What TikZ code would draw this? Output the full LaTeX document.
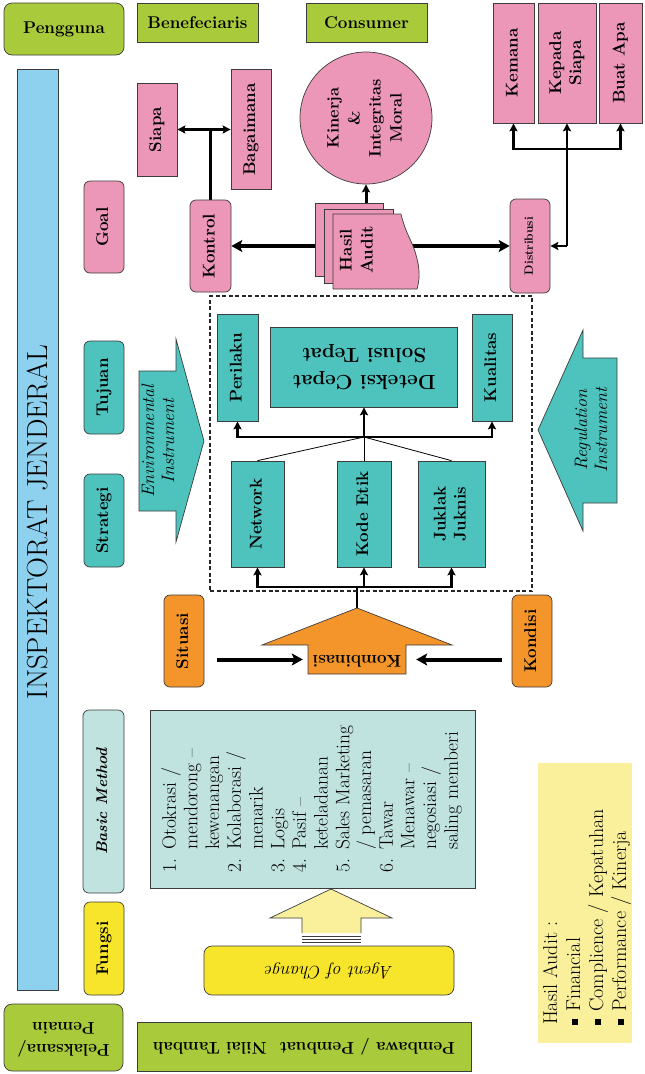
\documentclass[tikz,border=0pt]{standalone}
\usepackage{graphicx}
\usepackage{amssymb}
\usetikzlibrary{arrows.meta,backgrounds}
\definecolor{hijau}{HTML}{A9CB3B}
\definecolor{merahmuda}{HTML}{EC97B7}
\definecolor{tosca}{HTML}{4EC3BE}
\definecolor{jingga}{HTML}{F3952B}
\definecolor{biru}{HTML}{8DD1EE}
\definecolor{hijaumuda}{HTML}{C1E3E0}
\definecolor{kuning}{HTML}{F7E52B}
\definecolor{kuningmuda}{HTML}{FAF09C}
\definecolor{garis}{HTML}{3C3C3C}
\newcommand{\tegak}[1]{\rotatebox{90}{\begin{tabular}{@{}c@{}}#1\end{tabular}}}
\newcommand{\balik}[1]{\rotatebox{180}{\begin{tabular}{@{}c@{}}#1\end{tabular}}}
\newcommand{\kotakkecil}{\rule[0.25ex]{0.3em}{0.3em}}
\tikzstyle{kotak}=[draw=garis,line width=.7pt,inner sep=0pt,align=center,font=\bfseries\fontsize{17}{20}\selectfont]
\tikzstyle{bulat}=[kotak,rounded corners=6pt]
\tikzstyle{bentuk}=[draw=garis,line width=.7pt]
\tikzstyle{tebal}=[line width=3.5pt,>={Stealth[length=11pt,width=12pt,inset=2.5pt]}]
\tikzstyle{jalur}=[line width=2.4pt,>={Stealth[length=8pt,width=8pt,inset=1.5pt]}]
\tikzset{ukuran/.style 2 args={minimum width=#1,minimum height=#2}}

\begin{document}
\begin{tikzpicture}[x=1pt,y=-1pt]
\useasboundingbox (0,0) rectangle (645,1074);

\node[bulat,fill=hijau,ukuran={120}{52},rounded corners=8pt] (pengguna) at (64,29) {Pengguna};
\node[kotak,fill=hijau,ukuran={121}{39}] (benefeciaris) at (197.5,22.5) {Benefeciaris};
\node[kotak,fill=hijau,ukuran={121}{39}] (consumer) at (366.5,22.5) {Consumer};

\node[kotak,fill=biru,ukuran={41}{921}] (inspektorat) at (37.5,529.5) {};
\node[font=\fontsize{29}{31}\selectfont] (judul) at (37.5,522) {\rotatebox{90}{INSPEKTORAT JENDERAL}};

\node[bulat,fill=merahmuda,ukuran={40}{92}] (goal) at (104,227) {\tegak{Goal}};
\node[bulat,fill=tosca,ukuran={40}{93}] (tujuan) at (104,387.5) {\tegak{Tujuan}};
\node[bulat,fill=tosca,ukuran={40}{93}] (strategi) at (104,520.5) {\tegak{Strategi}};
\node[bulat,fill=hijaumuda,ukuran={41}{183},font=\bfseries\itshape\fontsize{15.5}{18}\selectfont] (basic) at (103.5,801.5) {\tegak{Basic Method}};
\node[bulat,fill=kuning,ukuran={40}{93}] (fungsi) at (104,948.5) {\tegak{Fungsi}};

\node[bulat,fill=hijau,ukuran={119}{67},rounded corners=8pt,font=\bfseries\fontsize{17}{22}\selectfont] (pelaksana) at (63.5,1037.5) {\balik{Pelaksana/\\Pemain}};
\node[kotak,fill=hijau,ukuran={334}{49},font=\bfseries\fontsize{17}{20}\selectfont] (pembawa) at (304,1046.5) {\balik{Pembawa / Pembuat\ \ Nilai Tambah}};
\node[bulat,fill=kuning,ukuran={250}{49},rounded corners=8pt,font=\itshape\fontsize{18}{20}\selectfont] (agent) at (329,970.5) {\balik{Agent of Change}};

\draw[bentuk,fill=kuningmuda] (302,933) -- (302,918) -- (270,918) -- (331,889) -- (392,918) -- (361,918) -- (361,933);
\foreach \y in {936,939,942}
  \draw[bentuk] (302,\y) -- (361,\y);

\node[kotak,fill=hijaumuda,ukuran={325}{178},font=\fontsize{19.5}{21.7}\selectfont] (metode) at (312.5,799) {\rotatebox{90}{\begin{tabular}{@{}l@{\hspace{9pt}}l@{}}
1. & Otokrasi /\\ & mendorong --\\ & kewenangan\\
2. & Kolaborasi /\\ & menarik\\
3. & Logis\\
4. & Pasif --\\ & keteladanan\\
5. & Sales Marketing\\ & / pemasaran\\
6. & Tawar\\ & Menawar --\\ & negosiasi /\\ & saling memberi
\end{tabular}}};

\node[fill=kuningmuda,inner sep=0pt,ukuran={94}{280}] (catatan) at (585,903) {};
\node[font=\fontsize{20}{23}\selectfont] (isicatatan) at (587,917) {\rotatebox{90}{\begin{tabular}{@{}l@{\hspace{7pt}}l@{}}
\multicolumn{2}{@{}l}{Hasil Audit :}\\
\kotakkecil & Financial\\
\kotakkecil & Complience / Kepatuhan\\
\kotakkecil & Performance / Kinerja
\end{tabular}}};

\node[kotak,fill=merahmuda,ukuran={40}{93}] (siapa) at (157,129.5) {\tegak{Siapa}};
\node[kotak,fill=merahmuda,ukuran={40}{120}] (bagaimana) at (251,129.5) {\tegak{Bagaimana}};
\node[bulat,fill=merahmuda,ukuran={41}{92}] (kontrol) at (210.5,246) {\tegak{Kontrol}};
\node[kotak,circle,fill=merahmuda,minimum size=132,font=\bfseries\fontsize{16.5}{21}\selectfont] (kinerja) at (366,118) {\tegak{Kinerja\\\&\\Integritas\\Moral}};

\draw[bentuk,fill=merahmuda] (315,203) rectangle (383,276);
\draw[bentuk,fill=merahmuda] (324,209) rectangle (393,283);
\draw[bentuk,fill=merahmuda] (333,214) -- (401,214) .. controls (406,235) and (412,240) .. (416,255)
  .. controls (421,272) and (419,282) .. (417,289) -- (333,289) -- cycle;
\node[font=\bfseries\fontsize{17}{21}\selectfont] (hasil) at (358,250) {\tegak{Hasil\\Audit}};

\node[bulat,fill=merahmuda,ukuran={40}{94},font=\bfseries\fontsize{12}{14}\selectfont] (distribusi) at (530,246) {\tegak{Distribusi}};
\node[kotak,fill=merahmuda,ukuran={41}{120}] (kemana) at (513.5,63) {\tegak{Kemana}};
\node[kotak,fill=merahmuda,ukuran={58}{120}] (kepada) at (567,63) {\tegak{Kepada\\Siapa}};
\node[kotak,fill=merahmuda,ukuran={43}{120}] (buatapa) at (620.5,63) {\tegak{Buat Apa}};

\node[draw=black!85,line width=1.4pt,dash pattern=on 4pt off 2.5pt,ukuran={322}{295}] (bingkai) at (371,443.5) {};

\node[kotak,fill=tosca,ukuran={41}{107}] (perilaku) at (237.5,367.5) {\tegak{Perilaku}};
\node[kotak,fill=tosca,ukuran={187}{80},font=\bfseries\fontsize{20.5}{27}\selectfont] (deteksi) at (364,367) {\balik{Deteksi Cepat\\Solusi Tepat}};
\node[kotak,fill=tosca,ukuran={40}{107}] (kualitas) at (492,367.5) {\tegak{Kualitas}};
\node[kotak,fill=tosca,ukuran={53}{106}] (network) at (257.5,514) {\tegak{Network}};
\node[kotak,fill=tosca,ukuran={54}{106}] (kodeetik) at (364,514) {\tegak{Kode Etik}};
\node[kotak,fill=tosca,ukuran={67}{106}] (juklak) at (451.5,514) {\tegak{Juklak\\Juknis}};

\draw[bentuk,fill=tosca] (139,371) -- (176,371) -- (176,339) -- (204,441) -- (176,542) -- (176,511) -- (139,511) -- cycle;
\node[font=\itshape\fontsize{18}{20}\selectfont] (lingkungan) at (160,441) {\tegak{Environmental\\Instrument}};
\draw[bentuk,fill=tosca] (617,358) -- (583,358) -- (583,330) -- (538,430) -- (583,531) -- (583,503) -- (617,503) -- cycle;
\node[font=\itshape\fontsize{18}{20}\selectfont] (regulasi) at (593,430) {\tegak{Regulation\\Instrument}};

\draw[bentuk,fill=jingga] (357,608) -- (452,645) -- (406,645) -- (406,674) -- (308,674) -- (308,645) -- (262,645) -- cycle;
\node[ukuran={98}{29},inner sep=0pt,font=\bfseries\fontsize{17}{19}\selectfont] (kombinasi) at (357,659.5) {\balik{Kombinasi}};
\coordinate (puncak) at (357,608);

\node[bulat,fill=jingga,ukuran={40}{92}] (situasi) at (184,641) {\tegak{Situasi}};
\node[bulat,fill=jingga,ukuran={40}{92}] (kondisi) at (532,641) {\tegak{Kondisi}};

\begin{pgfonlayer}{background}
\draw[jalur,<->] (siapa.east) -- (bagaimana.west);
\draw[jalur] (kontrol.north) -- (kontrol.north |- siapa.east);
\draw[tebal,->] (hasil.center |- kontrol.east) -- (kontrol.east);
\draw[tebal,->] (hasil.center |- distribusi.west) -- (distribusi.west);
\draw[jalur,line width=3pt,->] (kinerja.south |- hasil.center) -- (kinerja.south);

\coordinate (simpang) at (kepada.south |- distribusi.east);
\coordinate (cabang) at (567,149);
\draw[jalur,->] (simpang) -- (distribusi.east);
\draw[jalur,->] (simpang) -- (kepada.south);
\draw[jalur,->] (cabang) -| (kemana.south);
\draw[jalur,->] (cabang) -| (buatapa.south);

\coordinate (atas) at (deteksi.south |- 0,437);
\draw[jalur,->] (atas) -- (deteksi.south);
\draw[jalur,->] (atas) -| (perilaku.south);
\draw[jalur,->] (atas) -| (kualitas.south);
\foreach \n in {network,kodeetik,juklak}
  \draw[line width=.8pt] (atas) -- (\n.north);

\coordinate (bawah) at (kodeetik.south |- 0,587);
\draw[jalur,->] (bawah) -- (kodeetik.south);
\draw[jalur,->] (bawah) -| (network.south);
\draw[jalur,->] (bawah) -| (juklak.south);
\draw[jalur] (puncak) -- (puncak |- bawah);

\draw[tebal,line width=4pt,->,shorten <=13pt,shorten >=5pt] (situasi.east |- kombinasi.west) -- (kombinasi.west);
\draw[tebal,line width=4pt,->,shorten <=10pt,shorten >=10pt] (kondisi.west |- kombinasi.east) -- (kombinasi.east);
\end{pgfonlayer}
\end{tikzpicture}
\end{document}
